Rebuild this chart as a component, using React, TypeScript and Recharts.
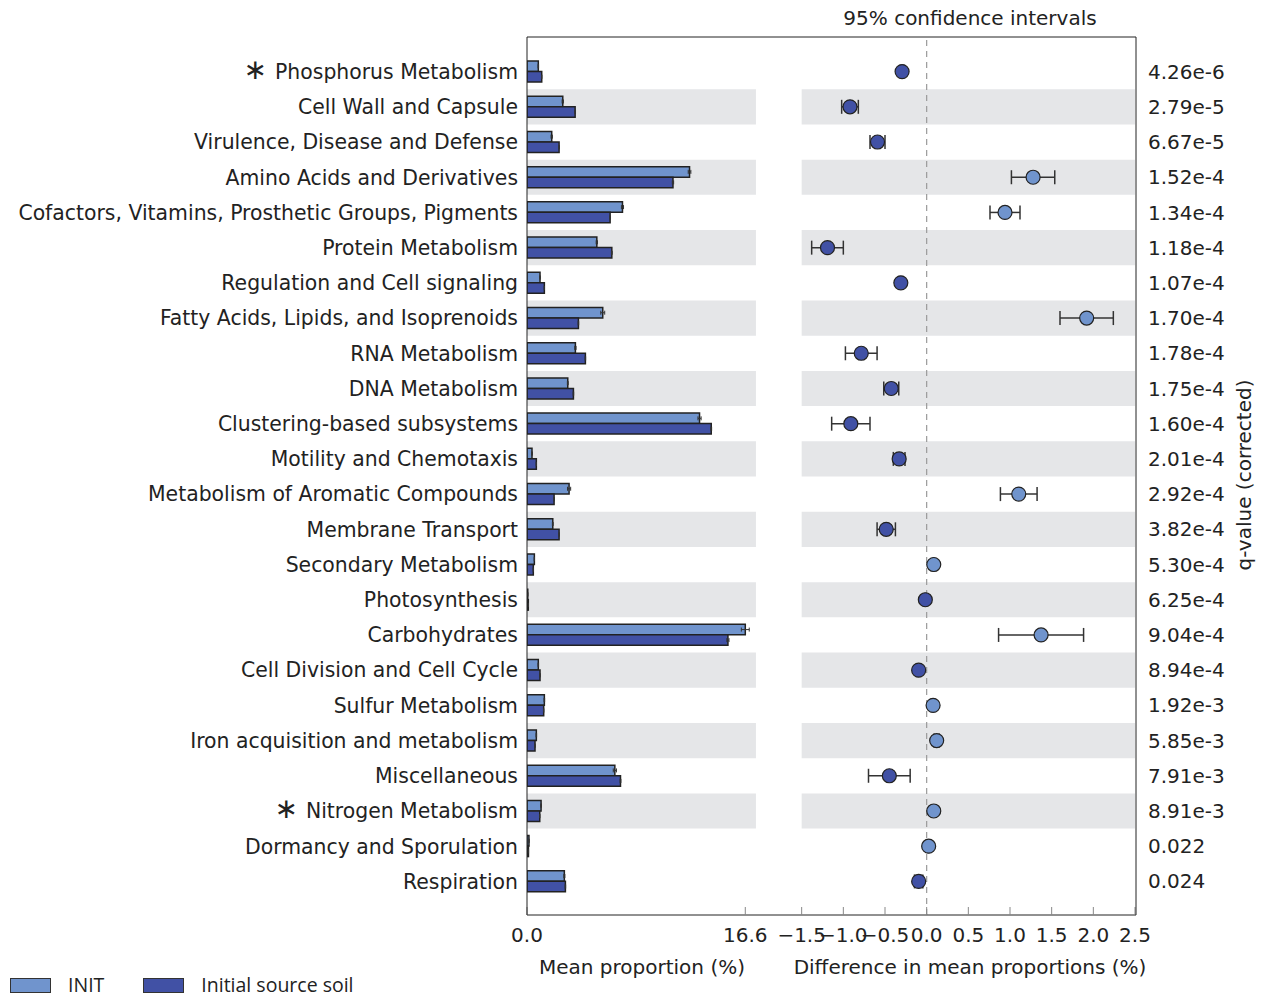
import React from 'react';
import {
  ComposedChart,
  Bar,
  Line,
  XAxis,
  YAxis,
  ReferenceArea,
  ReferenceLine,
  ErrorBar,
  Legend,
} from 'recharts';

// Subsystem categories, top to bottom
const categories = [
  'Phosphorus Metabolism',
  'Cell Wall and Capsule',
  'Virulence, Disease and Defense',
  'Amino Acids and Derivatives',
  'Cofactors, Vitamins, Prosthetic Groups, Pigments',
  'Protein Metabolism',
  'Regulation and Cell signaling',
  'Fatty Acids, Lipids, and Isoprenoids',
  'RNA Metabolism',
  'DNA Metabolism',
  'Clustering-based subsystems',
  'Motility and Chemotaxis',
  'Metabolism of Aromatic Compounds',
  'Membrane Transport',
  'Secondary Metabolism',
  'Photosynthesis',
  'Carbohydrates',
  'Cell Division and Cell Cycle',
  'Sulfur Metabolism',
  'Iron acquisition and metabolism',
  'Miscellaneous',
  'Nitrogen Metabolism',
  'Dormancy and Sporulation',
  'Respiration',
];
const starred = ['Phosphorus Metabolism', 'Nitrogen Metabolism'];

// Mean proportion (%) per group
const initMean = [0.86, 2.72, 1.88, 12.36, 7.26, 5.31, 0.99, 5.76, 3.68, 3.1, 13.12, 0.38, 3.2, 1.96, 0.56, 0.06, 16.6, 0.86, 1.32, 0.71, 6.68, 1.07, 0.15, 2.84];
const soilMean = [1.12, 3.66, 2.44, 11.1, 6.32, 6.45, 1.32, 3.91, 4.44, 3.53, 14.01, 0.71, 2.06, 2.44, 0.48, 0.1, 15.28, 0.99, 1.27, 0.61, 7.11, 0.97, 0.11, 2.92];
const initErr = [0.02, 0.05, 0.05, 0.1, 0.08, 0.05, 0.02, 0.15, 0.05, 0.03, 0.12, 0.03, 0.12, 0.03, 0.01, 0.01, 0.3, 0.02, 0.02, 0.02, 0.12, 0.02, 0.01, 0.04];
const soilErr = [0.01, 0.03, 0.02, 0.05, 0.02, 0.03, 0.01, 0.02, 0.02, 0.02, 0.03, 0.01, 0.02, 0.02, 0.01, 0.01, 0.08, 0.01, 0.01, 0.01, 0.03, 0.01, 0.01, 0.02];

// Difference in mean proportions (%) with 95% CI half-widths
const diffMean = [-0.295, -0.92, -0.59, 1.277, 0.94, -1.19, -0.31, 1.92, -0.785, -0.425, -0.91, -0.33, 1.105, -0.485, 0.085, -0.016, 1.373, -0.096, 0.077, 0.12, -0.448, 0.085, 0.024, -0.096];
const diffCi = [0.02, 0.1, 0.09, 0.26, 0.18, 0.19, 0.02, 0.32, 0.19, 0.09, 0.23, 0.07, 0.22, 0.11, 0.01, 0.01, 0.51, 0.02, 0.02, 0.03, 0.25, 0.025, 0.01, 0.05];
const qValues = ['4.26e-6', '2.79e-5', '6.67e-5', '1.52e-4', '1.34e-4', '1.18e-4', '1.07e-4', '1.70e-4', '1.78e-4', '1.75e-4', '1.60e-4', '2.01e-4', '2.92e-4', '3.82e-4', '5.30e-4', '6.25e-4', '9.04e-4', '8.94e-4', '1.92e-3', '5.85e-3', '7.91e-3', '8.91e-3', '0.022', '0.024'];

const propTicks = [0, 16.6];
const diffTicks = [-1.5, -1.0, -0.5, 0, 0.5, 1.0, 1.5, 2.0, 2.5];

const FONT = '"DejaVu Sans", sans-serif';
const LIGHT = '#7094cd';
const DARK = '#4151a5';
const STRIPE = '#e5e6e8';
const AXIS = '#222';
const TEXT = '#222';
const ROW_PAD = { top: 17, bottom: 16 };
const seriesColors: Record<string, string> = { INIT: LIGHT, 'Initial source soil': DARK };

const barRows = categories.map((name, i) => ({
  name,
  init: initMean[i],
  soil: soilMean[i],
  initErr: initErr[i],
  soilErr: soilErr[i],
}));
const diffRows = categories.map((name, i) => ({ name, diff: diffMean[i], ci: diffCi[i] }));
const qByName: Record<string, string> = Object.fromEntries(categories.map((c, i) => [c, qValues[i]]));
const stripeRows = categories.filter((_, i) => i % 2 === 1);

const fmtDiff = (v: number) => (v < 0 ? '\u2212' : '') + Math.abs(v).toFixed(1);

function CategoryTick({ x, y, payload }: any) {
  const star = starred.includes(payload.value);
  return (
    <text x={x} y={y} dy="0.36em" textAnchor="end" fontFamily={FONT} fontSize={20.4} fill={TEXT}>
      {star && <tspan fontSize={28}>{'\u2217'}</tspan>}
      <tspan dx={star ? 8 : 0}>{payload.value}</tspan>
    </text>
  );
}

function DiffDot(props: any) {
  const { cx, cy, payload, index } = props;
  if (cx == null || cy == null) return <g key={index} />;
  return (
    <circle
      key={index}
      cx={cx}
      cy={cy}
      r={7}
      fill={payload.diff > 0 ? LIGHT : DARK}
      stroke="#222"
      strokeWidth={1.2}
    />
  );
}

function LegendContent({ payload }: any) {
  return (
    <div style={{ display: 'flex', alignItems: 'center', fontFamily: '"Open Sans", sans-serif', fontSize: 19.5, lineHeight: '20px', color: TEXT }}>
      {(payload || []).map((p: any) => (
        <div key={p.value} style={{ display: 'flex', alignItems: 'center', marginRight: 39 }}>
          <span
            style={{
              display: 'inline-block',
              width: 39,
              height: 13,
              background: seriesColors[p.value],
              border: '1px solid #333',
              marginRight: 17,
            }}
          />
          <span>{p.value}</span>
        </div>
      ))}
    </div>
  );
}

export default function App() {
  return (
    <div style={{ position: 'absolute', left: 0, top: 0, width: 1264, height: 998, background: '#fff' }}>
      <style>{'.recharts-surface { overflow: visible; }'}</style>
      {/* mean proportions */}
      <div style={{ position: 'absolute', left: 0, top: 0 }}>
        <ComposedChart
          layout="vertical"
          width={757}
          height={998}
          data={barRows}
          margin={{ top: 36, right: 0, bottom: 0, left: 0 }}
          barGap={0}
          barSize={10.5}
        >
          <XAxis xAxisId="top" orientation="top" type="number" domain={[0, 1]} height={1} tick={false} tickLine={false} stroke={AXIS} />
          <XAxis
            type="number"
            domain={[0, 17.49]}
            ticks={propTicks}
            allowDataOverflow
            interval={0}
            height={83}
            tickSize={-8}
            tickMargin={21}
            tickFormatter={(v: number) => v.toFixed(1)}
            tick={{ fill: TEXT, fontSize: 20, fontFamily: FONT }}
            tickLine={{ stroke: '#888' }}
            stroke={AXIS}
          />
          <YAxis
            type="category"
            dataKey="name"
            scale="band"
            width={527}
            interval={0}
            tickLine={false}
            tickSize={0}
            tickMargin={9}
            padding={ROW_PAD}
            tick={(p: any) => <CategoryTick {...p} />}
            stroke={AXIS}
          />
          {stripeRows.map((name) => (
            <ReferenceArea key={name} y1={name} y2={name} x1={0} x2={17.41} fill={STRIPE} fillOpacity={1} stroke="none" />
          ))}
          <Bar dataKey="init" name="INIT" fill={LIGHT} stroke="#222" strokeWidth={1.5} isAnimationActive={false}>
            <ErrorBar dataKey="initErr" direction="x" width={2} stroke="#333" strokeWidth={1} />
          </Bar>
          <Bar dataKey="soil" name="Initial source soil" fill={DARK} stroke="#222" strokeWidth={1.5} isAnimationActive={false}>
            <ErrorBar dataKey="soilErr" direction="x" width={2} stroke="#333" strokeWidth={1} />
          </Bar>
          <Legend
            layout="horizontal"
            verticalAlign="middle"
            align="center"
            wrapperStyle={{ left: 10, top: 975, width: 420 }}
            content={(p: any) => <LegendContent {...p} />}
          />
        </ComposedChart>
      </div>

      {/* differences with confidence intervals */}
      <div style={{ position: 'absolute', left: 757, top: 0 }}>
        <ComposedChart
          layout="vertical"
          width={507}
          height={998}
          data={diffRows}
          margin={{ top: 36, right: 0, bottom: 0, left: 0 }}
        >
          <XAxis xAxisId="top" orientation="top" type="number" domain={[0, 1]} height={1} tick={false} tickLine={false} stroke={AXIS} />
          <XAxis
            type="number"
            domain={[-2.036, 2.512]}
            ticks={diffTicks}
            allowDataOverflow
            interval={0}
            height={83}
            tickSize={-8}
            tickMargin={21}
            tickFormatter={fmtDiff}
            tick={{ fill: TEXT, fontSize: 20, fontFamily: FONT }}
            tickLine={{ stroke: '#888' }}
            stroke={AXIS}
          />
          <YAxis
            type="category"
            dataKey="name"
            scale="band"
            orientation="right"
            width={128}
            interval={0}
            tickLine={false}
            tickSize={0}
            tickMargin={12}
            padding={ROW_PAD}
            tickFormatter={(name: string) => qByName[name]}
            tick={{ fill: TEXT, fontSize: 20, fontFamily: FONT }}
            stroke={AXIS}
          />
          {stripeRows.map((name) => (
            <ReferenceArea key={name} y1={name} y2={name} x1={-1.5} x2={2.5} fill={STRIPE} fillOpacity={1} stroke="none" />
          ))}
          <ReferenceLine x={0} stroke="#999" strokeDasharray="6 5" strokeWidth={1.2} />
          <Line
            dataKey="diff"
            stroke="none"
            dot={(p: any) => <DiffDot {...p} />}
            activeDot={false}
            isAnimationActive={false}
          >
            <ErrorBar dataKey="ci" direction="x" width={7} stroke="#333" strokeWidth={1.5} />
          </Line>
        </ComposedChart>
      </div>

      {/* titles */}
      <svg
        width={1264}
        height={998}
        style={{ position: 'absolute', left: 0, top: 0, pointerEvents: 'none' }}
        fontFamily={FONT}
        fontSize={20}
        fill={TEXT}
      >
        <text x={970} y={25} textAnchor="middle">95% confidence intervals</text>
        <text x={642} y={974} textAnchor="middle">Mean proportion (%)</text>
        <text x={970} y={974} textAnchor="middle">Difference in mean proportions (%)</text>
        <text x={1251} y={475} textAnchor="middle" transform="rotate(-90 1251 475)">q-value (corrected)</text>
      </svg>
    </div>
  );
}
